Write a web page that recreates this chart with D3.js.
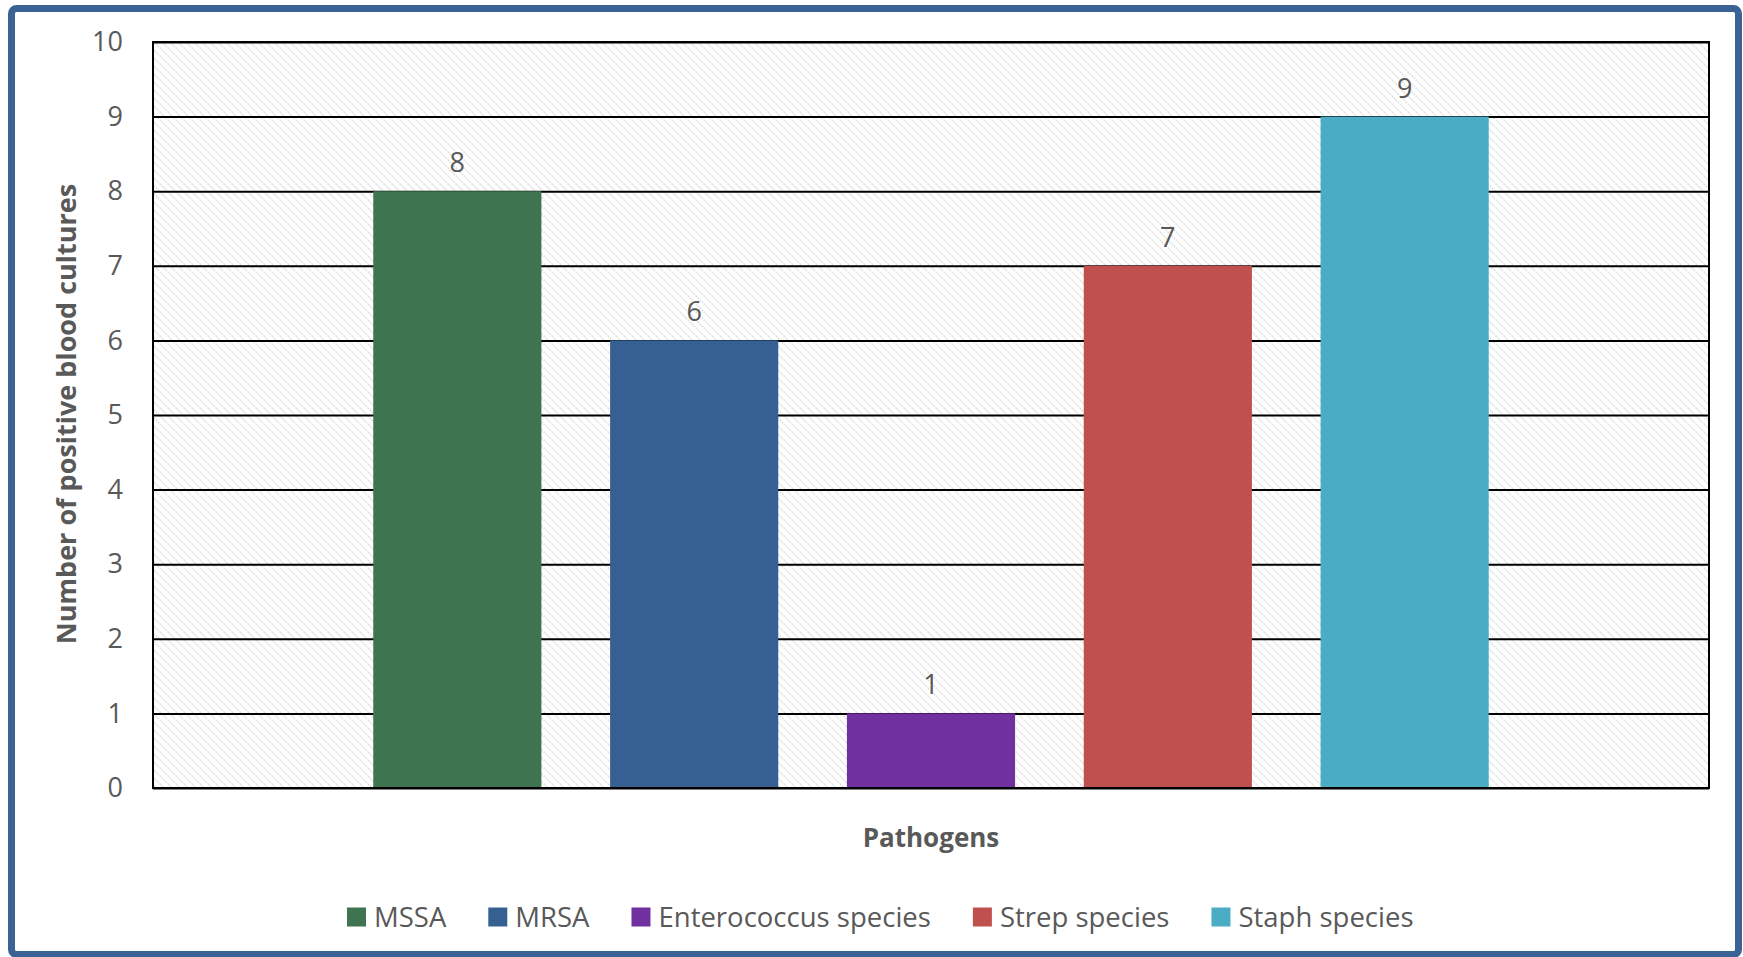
<!DOCTYPE html>
<html>
<head>
<meta charset="utf-8">
<script src="https://cdn.jsdelivr.net/npm/d3@7"></script>
<style>
  html, body { margin: 0; padding: 0; background: #ffffff; }
  svg { display: block; }
  text { font-family: "Open Sans", "Noto Sans", sans-serif; fill: #595959; }
</style>
</head>
<body>
<svg id="chart" width="1743" height="957"></svg>
<script>
// Positive blood cultures by pathogen
const series = ["MSSA", "MRSA", "Enterococcus species", "Strep species", "Staph species"];
const counts = [8, 6, 1, 7, 9];
const colors = ["#3e7550", "#366092", "#7030a0", "#c0504d", "#4bacc6"];
const yTicks = [0, 1, 2, 3, 4, 5, 6, 7, 8, 9, 10];
const xTitle = "Pathogens";
const yTitle = "Number of positive blood cultures";

const plot = { left: 153, right: 1709, top: 42, bottom: 788 };

const svg = d3.select("#chart");

// light hatched plot background
const defs = svg.append("defs");
const pat = defs.append("pattern")
  .attr("id", "hatch")
  .attr("patternUnits", "userSpaceOnUse")
  .attr("width", 8).attr("height", 8);
pat.append("rect").attr("width", 8).attr("height", 8).attr("fill", "#ffffff");
pat.append("path")
  .attr("d", "M-2,-2 L10,10 M-2,6 L2,10 M6,-2 L10,2")
  .attr("stroke", "#dadada")
  .attr("stroke-width", 1.8)
  .attr("stroke-dasharray", "1.4,1.4");

// outer frame
svg.append("rect")
  .attr("x", 11.5).attr("y", 8.5)
  .attr("width", 1727).attr("height", 946)
  .attr("rx", 5)
  .attr("fill", "#ffffff")
  .attr("stroke", "#3a6294")
  .attr("stroke-width", 7);

const y = d3.scaleLinear().domain([0, 10]).range([plot.bottom, plot.top]);
const x = d3.scaleBand()
  .domain(series)
  .range([plot.left, plot.right])
  .paddingInner(0.29)
  .paddingOuter(0.93);

svg.append("rect")
  .attr("x", plot.left).attr("y", plot.top)
  .attr("width", plot.right - plot.left)
  .attr("height", plot.bottom - plot.top)
  .attr("fill", "url(#hatch)");

// gridlines and tick labels
const yAxis = d3.axisLeft(y).tickValues(yTicks).tickSize(-(plot.right - plot.left)).tickPadding(30);
const gy = svg.append("g")
  .attr("transform", `translate(${plot.left},0)`)
  .call(yAxis);
gy.select(".domain").remove();
gy.selectAll(".tick line").attr("stroke", "#000000").attr("stroke-width", 2);
gy.selectAll(".tick text")
  .attr("fill", "#595959")
  .style("font-size", "27px");

// bars
svg.append("g").selectAll("rect")
  .data(series)
  .join("rect")
  .attr("x", d => x(d))
  .attr("y", (d, i) => y(counts[i]))
  .attr("width", x.bandwidth())
  .attr("height", (d, i) => y(0) - y(counts[i]))
  .attr("fill", (d, i) => colors[i]);

// value labels
svg.append("g").selectAll("text")
  .data(series)
  .join("text")
  .attr("x", d => x(d) + x.bandwidth() / 2)
  .attr("y", (d, i) => y(counts[i]) - 19)
  .attr("text-anchor", "middle")
  .style("font-size", "27px")
  .text((d, i) => counts[i]);

// plot border
svg.append("rect")
  .attr("x", plot.left).attr("y", plot.top)
  .attr("width", plot.right - plot.left)
  .attr("height", plot.bottom - plot.top)
  .attr("fill", "none")
  .attr("stroke", "#000000")
  .attr("stroke-width", 2);

// axis titles
svg.append("text")
  .attr("x", (plot.left + plot.right) / 2)
  .attr("y", 847)
  .attr("text-anchor", "middle")
  .style("font-size", "26px")
  .style("font-weight", "bold")
  .text(xTitle);

svg.append("text")
  .attr("transform", `translate(76,${(plot.top + plot.bottom) / 2 - 1}) rotate(-90)`)
  .attr("text-anchor", "middle")
  .style("font-size", "27px")
  .style("font-weight", "bold")
  .text(yTitle);

// legend
const legend = svg.append("g").attr("transform", "translate(347,917)");
const items = legend.selectAll("g")
  .data(series)
  .join("g");
items.append("rect")
  .attr("width", 19).attr("height", 19)
  .attr("y", -9.5)
  .attr("fill", (d, i) => colors[i]);
items.append("text")
  .attr("x", 27)
  .attr("y", 0)
  .attr("dy", "0.35em")
  .style("font-size", "27.5px")
  .text(d => d);
let cx = 0;
items.each(function () {
  const tw = d3.select(this).select("text").node().getComputedTextLength();
  d3.select(this).attr("transform", `translate(${cx},0)`);
  cx += 27 + tw + 42;
});
</script>
</body>
</html>
